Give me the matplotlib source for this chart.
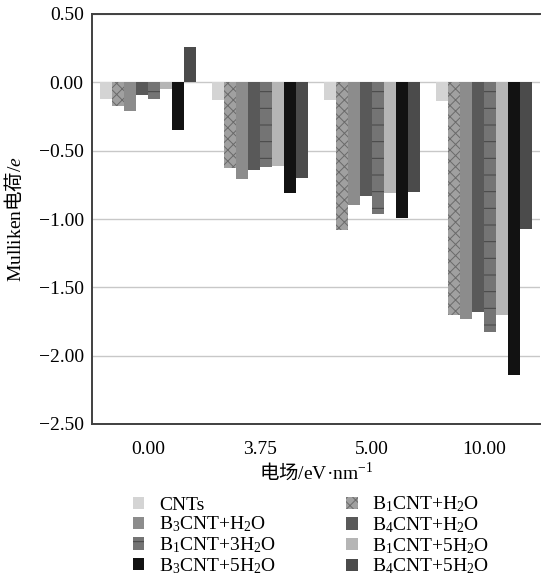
import matplotlib
matplotlib.use("Agg")
import matplotlib.pyplot as plt
import numpy as np

plt.rcParams["font.family"] = ["Liberation Serif", "Noto Sans CJK SC", "DejaVu Sans"]
plt.rcParams["mathtext.fontset"] = "custom"
plt.rcParams["mathtext.rm"] = "Noto Sans CJK SC"
plt.rcParams["mathtext.it"] = "Liberation Serif:italic"
plt.rcParams["mathtext.sf"] = "Liberation Serif"
plt.rcParams["hatch.linewidth"] = 0.7

# Data
fields = ["0.00", "3.75", "5.00", "10.00"]
series_names = [
    "CNTs", r"B$_\mathsf{1}$CNT+H$_\mathsf{2}$O", r"B$_\mathsf{3}$CNT+H$_\mathsf{2}$O",
    r"B$_\mathsf{4}$CNT+H$_\mathsf{2}$O", r"B$_\mathsf{1}$CNT+3H$_\mathsf{2}$O",
    r"B$_\mathsf{1}$CNT+5H$_\mathsf{2}$O", r"B$_\mathsf{3}$CNT+5H$_\mathsf{2}$O",
    r"B$_\mathsf{4}$CNT+5H$_\mathsf{2}$O",
]
cnts = [-0.12, -0.13, -0.13, -0.14]
b1_h2o = [-0.17, -0.63, -1.08, -1.70]
b3_h2o = [-0.21, -0.71, -0.90, -1.73]
b4_h2o = [-0.09, -0.64, -0.83, -1.68]
b1_3h2o = [-0.12, -0.62, -0.96, -1.83]
b1_5h2o = [-0.05, -0.61, -0.81, -1.70]
b3_5h2o = [-0.35, -0.81, -0.99, -2.14]
b4_5h2o = [0.26, -0.70, -0.80, -1.07]
values = [cnts, b1_h2o, b3_h2o, b4_h2o, b1_3h2o, b1_5h2o, b3_5h2o, b4_5h2o]

yticks = [0.5, 0.0, -0.5, -1.0, -1.5, -2.0, -2.5]
ytick_labels = ["0.50", "0.00", "\u22120.50", "\u22121.00", "\u22121.50", "\u22122.00", "\u22122.50"]

# Styles: (facecolor, hatch, hatch colour)
styles = [
    ("#d4d4d4", None, None),
    ("#a0a0a0", "xxx", "#6a6a6a"),
    ("#8c8c8c", None, None),
    ("#595959", None, None),
    ("#747474", "-", "#454545"),
    ("#b5b5b5", None, None),
    ("#121212", None, None),
    ("#4b4b4b", None, None),
]

fig = plt.figure(figsize=(5.42, 5.79), dpi=100)
ax = fig.add_axes([92 / 542, 1 - 424 / 579, 448 / 542, 410 / 579])

x = np.arange(len(fields))
width = 0.107
handles = []
for i, (vals, (fc, hatch, hc)) in enumerate(zip(values, styles)):
    offset = (i - 3.5) * width
    bars = ax.bar(x + offset, vals, width, color=fc, hatch=hatch,
                  edgecolor=hc if hc else fc, linewidth=0, label=series_names[i], zorder=3)
    handles.append(bars)

ax.set_xlim(-0.5, 3.5)
ax.set_ylim(-2.5, 0.5)
ax.set_yticks(yticks)
ax.set_yticklabels(ytick_labels, fontsize=14)
ax.set_xticks(x)
ax.set_xticklabels(fields, fontsize=14)
ax.tick_params(axis="y", length=0, pad=6)
ax.tick_params(axis="x", length=0, pad=12)
ax.grid(axis="y", color="#c8c8c8", linewidth=1.0, zorder=0)
ax.set_axisbelow(True)
for side in ["left", "bottom", "top"]:
    ax.spines[side].set_color("#404040")
    ax.spines[side].set_linewidth(1.4)
ax.spines["right"].set_visible(False)

ax.set_ylabel(r"Mulliken$\mathrm{电荷}$/$\mathit{e}$", fontsize=14, labelpad=10)
ax.set_xlabel(r"$\mathrm{电场}$/eV·nm$^{\mathsf{-1}}$", fontsize=14, labelpad=3)

# legend, row-major order in two columns
order = [0, 2, 4, 6, 1, 3, 5, 7]
fig.legend([handles[i] for i in order], [series_names[i] for i in order],
           loc="upper left", bbox_to_anchor=(125 / 542, 1 - 487 / 579), ncol=2,
           frameon=False, fontsize=14, handlelength=0.6, handleheight=0.6,
           handletextpad=0.75, columnspacing=3.6, labelspacing=0.05, borderaxespad=0)

fig.savefig("out.png", dpi=100)
